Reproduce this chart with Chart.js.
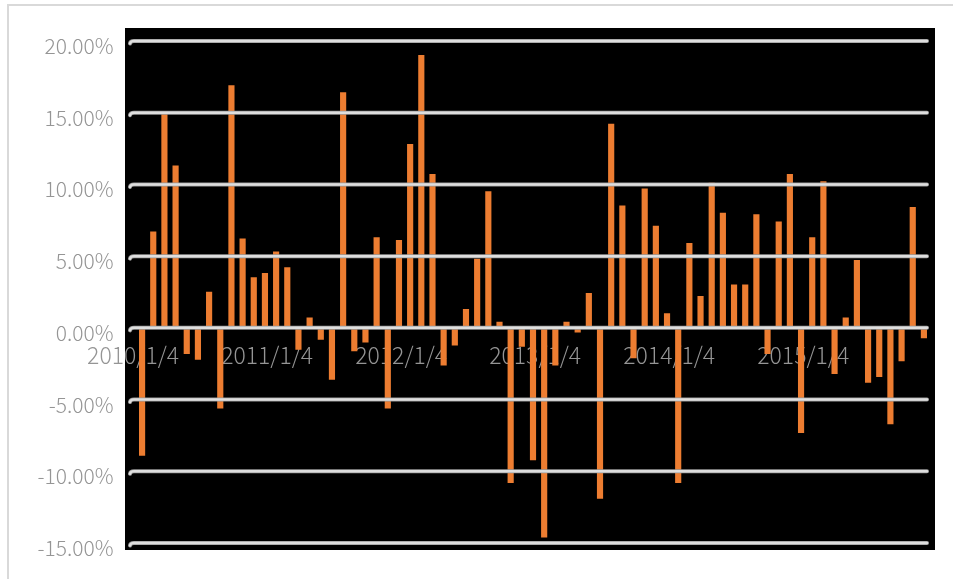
<!DOCTYPE html>
<html>
<head>
<meta charset="utf-8">
<script src="https://cdn.jsdelivr.net/npm/chart.js@4"></script>
<style>
  html, body { margin: 0; padding: 0; background: #ffffff; }
  #wrap { width: 953px; height: 579px; }
</style>
</head>
<body>
<div id="wrap"><canvas id="c" width="953" height="579"></canvas></div>
<script>
// Monthly returns, Jan 2010 – Nov 2015 (percent)
const categories = [
  '2010/1','2010/2','2010/3','2010/4','2010/5','2010/6','2010/7','2010/8','2010/9','2010/10','2010/11','2010/12',
  '2011/1','2011/2','2011/3','2011/4','2011/5','2011/6','2011/7','2011/8','2011/9','2011/10','2011/11','2011/12',
  '2012/1','2012/2','2012/3','2012/4','2012/5','2012/6','2012/7','2012/8','2012/9','2012/10','2012/11','2012/12',
  '2013/1','2013/2','2013/3','2013/4','2013/5','2013/6','2013/7','2013/8','2013/9','2013/10','2013/11','2013/12',
  '2014/1','2014/2','2014/3','2014/4','2014/5','2014/6','2014/7','2014/8','2014/9','2014/10','2014/11','2014/12',
  '2015/1','2015/2','2015/3','2015/4','2015/5','2015/6','2015/7','2015/8','2015/9','2015/10','2015/11'
];

const monthlyReturn = [
  -8.9,  6.7, 15.0, 11.3, -1.8, -2.2,  2.5, -5.6, 16.9,  6.2,  3.5,  3.8,
   5.3,  4.2, -1.5,  0.7, -0.8, -3.6, 16.4, -1.6, -1.0,  6.3, -5.6,  6.1,
  12.8, 19.0, 10.7, -2.6, -1.2,  1.3,  4.8,  9.5,  0.4,-10.8, -1.3, -9.2,
 -14.6, -2.6,  0.4, -0.3,  2.4,-11.9, 14.2,  8.5, -2.1,  9.7,  7.1,  1.0,
 -10.8,  5.9,  2.2, 10.1,  8.0,  3.0,  3.0,  7.9, -1.8,  7.4, 10.7, -7.3,
   6.3, 10.2, -3.2,  0.7,  4.7, -3.8, -3.4, -6.7, -2.3,  8.4, -0.7
];

// Year labels shown under the zero line, one every 12 months
const yearTickLabels = ['2010/1/4', '2011/1/4', '2012/1/4', '2013/1/4', '2014/1/4', '2015/1/4'];

const yMin = -15, yMax = 20, yStep = 5;

const FONT = '"Noto Sans CJK SC", "Noto Sans", sans-serif';
const TEXT_GRAY = '#959595';

// White page with the thin frame, black plot panel behind the bars
const panelPlugin = {
  id: 'panel',
  beforeDraw(chart) {
    const { ctx, chartArea: a } = chart;
    ctx.save();
    ctx.fillStyle = '#ffffff';
    ctx.fillRect(0, 0, chart.width, chart.height);
    ctx.strokeStyle = '#d9d9d9';
    ctx.lineWidth = 2;
    ctx.beginPath();
    ctx.moveTo(8, chart.height);
    ctx.lineTo(8, 5);
    ctx.lineTo(chart.width, 5);
    ctx.stroke();
    ctx.fillStyle = '#000000';
    ctx.fillRect(a.left - 11.5, a.top - 13, (a.right + 5.5) - (a.left - 11.5), (a.bottom + 7) - (a.top - 13));
    ctx.restore();
  }
};

// Horizontal value lines drawn over the bars, with a small hook at the left end
const valueLinesPlugin = {
  id: 'valueLines',
  afterDatasetsDraw(chart) {
    const { ctx, chartArea: a, scales: { y } } = chart;
    const x0 = a.left - 6.5, x1 = a.right - 2.5;
    ctx.save();
    ctx.lineCap = 'round';
    y.ticks.forEach(t => {
      const py = y.getPixelForValue(t.value);
      ctx.beginPath();
      ctx.moveTo(x0, py + 2.5);
      ctx.quadraticCurveTo(x0 + 0.5, py, x0 + 4, py);
      ctx.lineTo(x1, py);
      ctx.strokeStyle = '#9a9a9a';
      ctx.lineWidth = 4;
      ctx.stroke();
      ctx.strokeStyle = '#dedede';
      ctx.lineWidth = 2.5;
      ctx.stroke();
    });
    ctx.restore();
  }
};

new Chart(document.getElementById('c'), {
  type: 'bar',
  data: {
    labels: categories,
    datasets: [{
      data: monthlyReturn,
      backgroundColor: '#ED7D31',
      borderWidth: 0,
      barThickness: 5.5
    }]
  },
  options: {
    responsive: false,
    animation: false,
    events: [],
    layout: { padding: { left: 0, right: 23.5, top: 41, bottom: 36 } },
    plugins: { legend: { display: false }, tooltip: { enabled: false } },
    scales: {
      x: {
        position: { y: 0 },
        offset: true,
        grid: { display: false, drawTicks: false },
        border: { display: false },
        ticks: {
          autoSkip: false,
          maxRotation: 0,
          minRotation: 0,
          padding: 14,
          labelOffset: -9,
          color: TEXT_GRAY,
          font: { family: FONT, size: 23, weight: 300 },
          callback: (v, i) => (i % 12 === 0 ? yearTickLabels[i / 12] : '')
        }
      },
      y: {
        min: yMin,
        max: yMax,
        afterFit: s => { s.width = 136.5; },
        grid: { display: false, drawTicks: false },
        border: { display: false },
        ticks: {
          stepSize: yStep,
          padding: 23,
          labelOffset: 5,
          color: TEXT_GRAY,
          font: { family: FONT, size: 21, weight: 300 },
          callback: v => v.toFixed(2) + '%'
        }
      }
    }
  },
  plugins: [panelPlugin, valueLinesPlugin]
});
</script>
</body>
</html>
